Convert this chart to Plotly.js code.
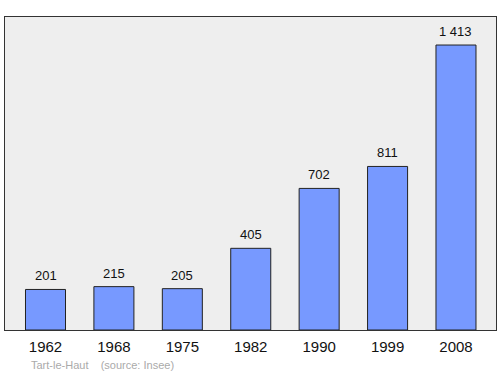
<!DOCTYPE html>
<html>
<head>
<meta charset="utf-8">
<script src="https://cdn.plot.ly/plotly-3.0.1.min.js"></script>
<style>html,body{margin:0;padding:0;background:#fff;}#chart{width:500px;height:374px;}</style>
</head>
<body>
<div id="chart"></div>
<script>
const years = ["1962", "1968", "1975", "1982", "1990", "1999", "2008"];
const population = [201, 215, 205, 405, 702, 811, 1413];
const valueLabels = ["201", "215", "205", "405", "702", "811", "1 413"];
const place = "Tart-le-Haut";
const source = "(source: Insee)";

const idx = years.map((_, i) => i);
const trace = {
  type: 'bar',
  x: idx,
  y: population,
  width: 0.585,
  marker: {color: '#7799ff', line: {color: '#222', width: 1}},
  hoverinfo: 'none'
};
const annotations = idx.map(i => ({
  x: i, y: population[i], xref: 'x', yref: 'y',
  text: valueLabels[i], showarrow: false, yanchor: 'bottom', yshift: 4,
  font: {family: 'Liberation Sans, Arial, sans-serif', size: 13, color: '#111'}
}));
annotations.push({
  xref: 'paper', yref: 'paper', x: 0.049, y: -0.085, xanchor: 'left', yanchor: 'top',
  text: place + '&nbsp;&nbsp;&nbsp;&nbsp;' + source, showarrow: false,
  font: {family: 'Liberation Sans, Arial, sans-serif', size: 11, color: '#aaaaaa'}
});
const layout = {
  width: 500, height: 374,
  margin: {l: 5, r: 4, t: 17, b: 44, pad: 0},
  paper_bgcolor: '#ffffff',
  plot_bgcolor: '#eeeeee',
  showlegend: false,
  xaxis: {
    type: 'linear', range: [-0.592, 6.585],
    tickmode: 'array', tickvals: idx, ticktext: years,
    showgrid: false, zeroline: false, ticks: '', ticklabelstandoff: 3,
    showline: true, mirror: true, linecolor: '#333', linewidth: 1,
    tickfont: {family: 'Liberation Sans, Arial, sans-serif', size: 15, color: '#111'},
    fixedrange: true
  },
  yaxis: {
    range: [0, 1552], showgrid: false, zeroline: false, showticklabels: false, ticks: '',
    showline: true, mirror: true, linecolor: '#333', linewidth: 1, fixedrange: true
  },
  annotations: annotations
};
Plotly.newPlot('chart', [trace], layout, {staticPlot: true, displayModeBar: false});
</script>
</body>
</html>
